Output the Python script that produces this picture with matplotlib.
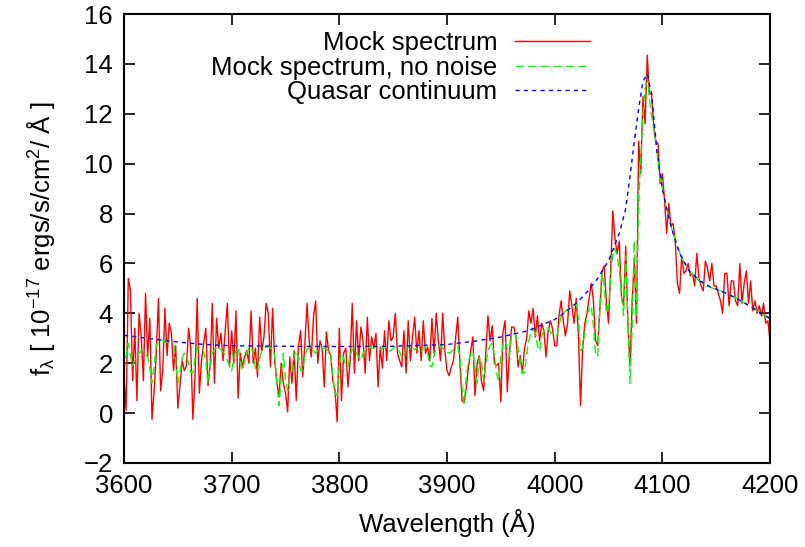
import numpy as np
import matplotlib
matplotlib.use('Agg')
import matplotlib.pyplot as plt

plt.rcParams['font.family'] = ['Liberation Sans', 'DejaVu Sans']
plt.rcParams['mathtext.fontset'] = 'custom'
plt.rcParams['mathtext.rm'] = 'Liberation Sans'
plt.rcParams['mathtext.it'] = 'Liberation Sans:italic'

# mock spectrum (with noise), one value every 2 A from 3600 to 4200
flux_noise = [
    1.5, 0.1, 5.4, 4.9, 1.3, 3.4, 0.5, 4.0, 3.1, 1.3,
    4.8, 2.3, 3.8, -0.25, 0.9, 2.4, 4.6, 0.9, 1.7, 4.2,
    2.3, 3.6, 3.2, 1.7, 2.7, 0.2, 1.1, 2.1, 1.7, 1.9,
    3.4, 2.6, -0.25, 1.5, 4.6, 0.8, 2.1, 2.8, 3.4, 1.1,
    1.9, 4.4, 1.2, 3.8, 2.6, 3.2, 2.1, 3.3, 4.4, 1.85,
    3.3, 2.0, 4.1, 0.6, 2.4, 1.85, 2.25, 2.5, 2.0, 4.1,
    2.0, 2.6, 1.45, 3.85, 2.5, 3.05, 4.4, 4.0, 1.85, 4.2,
    2.1, 1.2, 0.65, 2.0, 1.2, 0.8, 0.05, 2.25, 1.2, 2.5,
    0.5, 2.65, 3.3, 1.45, 2.8, 4.4, 2.9, 2.25, 3.85, 4.5,
    2.0, 2.9, 2.6, 1.05, 3.25, 2.5, 2.3, 1.3, 0.9, -0.35,
    3.4, 0.5, 2.4, 2.6, 1.05, 2.1, 4.4, 1.6, 3.7, 2.1,
    3.45, 2.9, 1.6, 3.85, 2.1, 3.05, 2.6, 3.2, 1.05, 2.65,
    1.8, 3.3, 2.1, 3.7, 2.9, 3.05, 4.0, 2.4, 2.1, 1.85,
    3.3, 1.6, 3.7, 2.1, 3.05, 3.85, 2.4, 3.3, 2.1, 3.7,
    2.4, 2.65, 2.1, 3.8, 2.4, 4.0, 2.9, 2.1, 4.0, 2.5,
    1.7, 1.5, 1.85, 2.1, 3.0, 3.85, 2.0, 0.5, 0.4, 1.05,
    1.85, 2.5, 3.05, 0.7, 2.0, 2.3, 1.3, 0.9, 2.4, 3.9,
    2.9, 3.5, 2.0, 1.9, 2.0, 0.45, 3.25, 3.7, 0.85, 2.4,
    3.45, 3.45, 3.1, 1.85, 2.3, 1.6, 2.6, 3.0, 4.1, 3.6,
    4.2, 3.05, 3.9, 2.9, 3.6, 3.3, 2.25, 3.3, 3.7, 3.4,
    2.7, 2.7, 3.9, 4.5, 3.7, 3.1, 3.6, 4.9, 4.3, 3.6,
    4.6, 3.2, 0.3, 2.6, 3.6, 4.0, 4.6, 5.2, 4.5, 2.9,
    2.7, 4.2, 5.7, 5.9, 4.5, 3.6, 5.7, 8.1, 7.0, 6.4,
    6.9, 4.7, 4.3, 6.7, 3.6, 1.9, 4.5, 6.1, 3.6, 10.9,
    9.6, 12.7, 11.6, 14.35, 12.8, 12.8, 11.5, 10.9, 10.8, 9.2,
    9.6, 8.6, 7.2, 8.4, 7.5, 7.6, 6.9, 5.2, 4.8, 6.3,
    5.6, 5.7, 6.0, 5.5, 5.6, 5.1, 6.4, 5.4, 5.1, 4.9,
    6.1, 5.8, 5.3, 6.0, 5.1, 5.1, 4.8, 4.5, 4.0, 5.6,
    5.6, 4.3, 5.3, 5.3, 4.5, 4.3, 6.0, 4.4, 5.2, 5.7,
    4.4, 5.3, 4.1, 4.5, 4.0, 4.3, 3.9, 4.4, 3.6, 3.7,
    2.9,
]

# same spectrum without noise
flux_clean = [
    1.7, 2.3, 2.8, 2.3, 1.9, 2.1, 2.3, 2.4, 2.5, 2.5,
    2.35, 2.25, 1.8, 1.2, 1.9, 2.75, 2.8, 2.9, 2.9, 2.85,
    2.85, 2.85, 2.8, 2.7, 2.1, 1.2, 1.6, 2.2, 2.4, 2.3,
    2.0, 1.65, 1.6, 2.2, 2.6, 2.65, 2.6, 2.45, 2.1, 1.2,
    1.9, 2.4, 2.55, 2.65, 2.6, 2.55, 2.45, 2.3, 2.1, 1.9,
    1.7, 2.2, 2.55, 2.6, 2.1, 1.7, 2.1, 2.4, 2.6, 2.65,
    2.4, 1.8, 1.65, 2.2, 2.5, 2.6, 2.65, 2.65, 2.6, 2.6,
    2.3, 1.2, 0.3, 1.4, 2.4, 1.3, 0.9, 1.4, 1.7, 2.3,
    2.5, 2.2, 1.7, 1.7, 2.3, 2.55, 2.6, 2.65, 2.5, 2.4,
    2.5, 2.6, 2.6, 2.6, 2.55, 2.5, 2.3, 1.5, 0.8, 0.7,
    1.9, 2.4, 2.2, 1.9, 1.85, 2.3, 2.55, 2.6, 2.4, 2.25,
    2.1, 2.4, 2.55, 2.6, 2.65, 2.6, 2.6, 2.65, 2.6, 2.55,
    2.6, 2.65, 2.6, 2.5, 2.5, 2.6, 2.65, 2.6, 2.45, 2.25,
    2.35, 2.6, 2.65, 2.6, 2.6, 2.55, 2.6, 2.4, 2.45, 2.6,
    2.65, 2.4, 1.9, 1.85, 2.3, 2.6, 2.7, 2.7, 2.6, 2.5,
    2.45, 2.4, 2.45, 2.55, 2.6, 2.65, 2.3, 1.0, 0.4, 1.5,
    2.1, 2.35, 2.5, 1.8, 1.2, 2.25, 2.1, 1.3, 1.85, 2.5,
    2.7, 2.8, 2.3, 1.6, 1.3, 2.2, 2.75, 2.9, 2.6, 2.3,
    3.1, 3.2, 3.1, 2.6, 2.1, 1.6, 1.6, 2.4, 2.9, 3.2,
    3.35, 3.2, 2.7, 2.5, 3.1, 3.3, 3.45, 3.4, 3.25, 3.15,
    3.1, 3.1, 3.5, 3.9, 4.0, 4.1, 4.15, 4.2, 4.26, 4.35,
    4.4, 3.8, 2.5, 2.6, 3.3, 3.9, 4.2, 4.3, 3.5, 2.3,
    2.3, 4.2, 5.6, 5.1, 4.0, 4.2, 5.4, 6.5, 6.6, 6.3,
    5.8, 4.7, 3.9, 6.3, 3.8, 1.2, 3.5, 6.9, 3.9, 8.5,
    10.2, 12.0, 13.0, 13.5, 12.6, 11.9, 11.4, 10.8, 10.1, 9.4,
    9.0, 8.6, 8.2, 7.85, 7.5, 7.2, 6.95, 6.7, 6.45, 6.25,
    6.05, 5.9, 5.75, 5.65, 5.55, 5.45, 5.38, 5.3, 5.24, 5.18,
    5.13, 5.09, 5.05, 5.02, 4.99, 4.96, 4.93, 4.9, 4.86, 4.82,
    4.78, 4.74, 4.7, 4.66, 4.62, 4.57, 4.52, 4.47, 4.42, 4.37,
    4.32, 4.27, 4.21, 4.15, 4.09, 4.03, 3.97, 3.92, 3.87, 3.82,
    3.77,
]

# quasar continuum
cont_wave = [3600, 3625, 3650, 3675, 3700, 3750, 3800, 3850, 3900, 3925,
             3950, 3975, 4000, 4010, 4020, 4030, 4040, 4050, 4060, 4066,
             4070, 4074, 4078, 4082, 4086, 4090, 4095, 4100, 4105, 4110,
             4116, 4125, 4135, 4145, 4160, 4175, 4190, 4200]
cont_flux = [3.12, 2.98, 2.85, 2.75, 2.7, 2.68, 2.67, 2.68, 2.75, 2.88,
             3.05, 3.3, 3.75, 4.05, 4.4, 4.85, 5.4, 6.1, 7.2, 8.2,
             9.5, 10.9, 12.2, 13.3, 13.6, 12.8, 10.5, 9.0, 8.0, 7.2,
             6.4, 5.7, 5.3, 5.05, 4.8, 4.45, 4.05, 3.8]

wave = np.linspace(3600, 4200, len(flux_noise))

fs = 18.5

fig = plt.figure(figsize=(8.05, 5.47), dpi=100)
ax = fig.add_axes([124 / 805, 1 - 463 / 547, 646 / 805, 449 / 547])

ax.plot(wave, flux_noise, color='#ff0000', lw=1.0, label='Mock spectrum')
ax.plot(wave, flux_clean, color='#00ff00', lw=1.0, dashes=(6, 3),
        label='Mock spectrum, no noise')
ax.plot(cont_wave, cont_flux, color='#0000ff', lw=1.0, dashes=(3, 3),
        label='Quasar continuum')

ax.set_xlim(3600, 4200)
ax.set_ylim(-2, 16)
ax.set_xticks(np.arange(3600, 4201, 100))
ax.set_yticks(np.arange(-2, 17, 2))
ax.tick_params(direction='in', length=8, width=1.2, labelsize=fs,
               top=True, right=True, pad=8)
for s in ax.spines.values():
    s.set_linewidth(1.5)

ax.set_xlabel('Wavelength (Å)', fontsize=fs, labelpad=8)
ax.set_ylabel(r'f$_\mathregular{λ}$ [ 10$^\mathregular{-17}$ ergs/s/cm$^\mathregular{2}$/ Å ]',
              fontsize=fs, labelpad=19)

leg = ax.legend(loc='upper right', bbox_to_anchor=(590 / 805, 1 - 31 / 547),
                bbox_transform=fig.transFigure, frameon=False, markerfirst=False,
                fontsize=fs, handlelength=2.9, handletextpad=0.7,
                labelspacing=0.02, borderaxespad=0, borderpad=0)
for t in leg.get_texts():
    t.set_ha('right')

fig.savefig('out.png', dpi=100)
